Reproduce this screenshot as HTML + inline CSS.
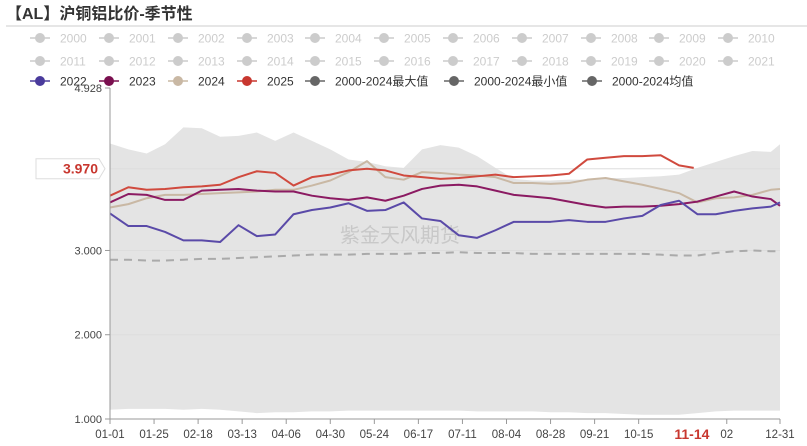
<!DOCTYPE html>
<html><head><meta charset="utf-8">
<style>
body{margin:0;background:#fff;}
svg{display:block;font-family:"Liberation Sans","Noto Sans CJK SC",sans-serif;}
</style></head>
<body>
<svg id="chart" width="807" height="446" viewBox="0 0 807 446">
<text x="6" y="19" font-size="16" font-weight="bold" fill="#333">【AL】沪铜铝比价-季节性</text>
<line x1="6" y1="26" x2="807" y2="26" stroke="#ccc"/>
<g id="legend"></g>
<g id="plot"></g>
</svg>
<script>
const days = [0,10,20,30,40,50,60,70,80,90,100,110,120,130,140,150,160,170,180,190,200,210,220,230,240,250,260,270,280,290,300,310,320,330,340,350,360,365];
const s2022 = [3.44,3.29,3.29,3.22,3.12,3.12,3.10,3.30,3.17,3.19,3.43,3.48,3.51,3.56,3.47,3.48,3.57,3.38,3.35,3.18,3.15,3.24,3.34,3.34,3.34,3.36,3.34,3.34,3.38,3.41,3.54,3.59,3.43,3.43,3.47,3.50,3.52,3.57];
const s2023 = [3.57,3.67,3.66,3.60,3.60,3.71,3.72,3.73,3.71,3.70,3.70,3.65,3.62,3.60,3.63,3.59,3.65,3.73,3.77,3.78,3.76,3.71,3.66,3.64,3.62,3.58,3.54,3.51,3.52,3.52,3.53,3.55,3.58,3.64,3.70,3.64,3.61,3.53];
const s2024 = [3.51,3.55,3.62,3.66,3.66,3.67,3.68,3.69,3.70,3.72,3.72,3.77,3.83,3.93,4.06,3.87,3.84,3.93,3.92,3.90,3.89,3.87,3.80,3.80,3.79,3.80,3.84,3.86,3.82,3.78,3.73,3.68,3.57,3.62,3.63,3.66,3.72,3.73];
const days2025 = [0,10,20,30,40,50,60,70,80,90,100,110,120,130,140,150,160,170,180,190,200,210,220,230,240,250,260,270,280,290,300,310,318];
const s2025 = [3.65,3.75,3.72,3.73,3.75,3.76,3.78,3.87,3.94,3.92,3.77,3.87,3.90,3.95,3.97,3.95,3.89,3.87,3.85,3.86,3.88,3.90,3.87,3.88,3.89,3.91,4.08,4.10,4.12,4.12,4.13,4.01,3.98];
const sMax = [4.27,4.20,4.15,4.26,4.46,4.45,4.35,4.36,4.40,4.30,4.40,4.30,4.20,4.08,4.05,4.00,3.98,4.20,4.25,4.22,4.12,3.98,3.85,3.83,3.83,3.84,3.84,3.86,3.86,3.87,3.88,3.90,3.98,4.05,4.12,4.18,4.17,4.26];
const sMin = [1.11,1.12,1.12,1.12,1.11,1.12,1.11,1.09,1.07,1.08,1.08,1.09,1.09,1.10,1.10,1.10,1.10,1.10,1.10,1.10,1.09,1.09,1.09,1.09,1.08,1.08,1.07,1.07,1.06,1.05,1.05,1.05,1.07,1.09,1.10,1.10,1.10,1.10];
const sMean = [2.89,2.89,2.88,2.88,2.89,2.90,2.90,2.91,2.92,2.93,2.94,2.95,2.95,2.95,2.96,2.96,2.96,2.97,2.97,2.98,2.97,2.97,2.97,2.96,2.96,2.96,2.96,2.96,2.96,2.96,2.95,2.94,2.94,2.97,2.99,3.00,2.99,2.99];
const yTicks = [1.000,2.000,3.000,4.928];
const xTickDays = [0,24,48,72,96,120,144,168,192,216,240,264,288,336,365];
const xTickLabels = ["01-01","01-25","02-18","03-13","04-06","04-30","05-24","06-17","07-11","08-04","08-28","09-21","10-15","02","12-31"];
const markDay = 317, markLabel = "11-14", markValue = 3.970;
const legendRows = [
 ["2000","2001","2002","2003","2004","2005","2006","2007","2008","2009","2010"],
 ["2011","2012","2013","2014","2015","2016","2017","2018","2019","2020","2021"]
];
const legendActive = [["2022","#4a3b9c"],["2023","#7a0f4f"],["2024","#c9b8a4"],["2025","#c8372f"],["2000-2024最大值","#666"],["2000-2024最小值","#666"],["2000-2024均值","#666"]];

const NS="http://www.w3.org/2000/svg";
const X0=110,X1=780,Y0=419,YTOP=88,VMIN=1.0,VMAX=4.928;
const xs=d=>X0+(X1-X0)*d/365;
const ys=v=>Y0-(Y0-YTOP)*(v-VMIN)/(VMAX-VMIN);
function mk(tag,attrs,parent){const e=document.createElementNS(NS,tag);for(const k in attrs)e.setAttribute(k,attrs[k]);parent.appendChild(e);return e;}
const plot=document.getElementById('plot'), legend=document.getElementById('legend');

// legend
const legXs=[60,129,198,267,335,404,473,542,611,679,748];
legendRows.forEach((row,ri)=>{row.forEach((t,i)=>{
 const g=mk('g',{},legend);
 
 
 const y=38+ri*23,x=legXs[i];
 mk('line',{x1:x-30,y1:y,x2:x-10,y2:y,stroke:'#ccc','stroke-width':1.5},g);
 mk('circle',{cx:x-20,cy:y,r:5,fill:'#ccc'},g);
 const tx=mk('text',{x:x,y:y+4.5,'font-size':12,fill:'#ccc'},g);tx.textContent=t;
});});
const actXs=[60,129,198,267,335,474,612];
legendActive.forEach((a,i)=>{
 const g=mk('g',{},legend);
 
 
 const y=81,x=actXs[i];
 mk('line',{x1:x-30,y1:y,x2:x-10,y2:y,stroke:a[1],'stroke-width':1.5},g);
 mk('circle',{cx:x-20,cy:y,r:5,fill:a[1]},g);
 const tx=mk('text',{x:x,y:y+4.5,'font-size':12,fill:'#333'},g);tx.textContent=a[0];
});

// band
let up=days.map((d,i)=>xs(d)+','+ys(sMax[i])).join(' ');
let dn=days.map((d,i)=>xs(d)+','+ys(sMin[i])).reverse().join(' ');
const band=mk('polygon',{points:up+' '+dn,fill:'#e4e4e4'},plot);



// grid
[2,3,markValue].forEach(v=>{mk('line',{x1:X0,y1:ys(v),x2:X1,y2:ys(v),stroke:'#ddd','stroke-width':1},plot);});

// watermark
const wm=mk('text',{x:340,y:242,'font-size':20,fill:'#c8c8c8','font-family':'"Noto Sans CJK SC",sans-serif'},plot);
wm.textContent='紫金天风期货';



function line(ds,vals,color,name,extra){
 const p=mk('polyline',Object.assign({points:ds.map((d,i)=>xs(d)+','+ys(vals[i])).join(' '),fill:'none',stroke:color,'stroke-width':2,'stroke-linejoin':'round'},extra||{}),plot);
 
 
}
line(days,sMean,'#aaa','mean-line',{'stroke-dasharray':'8,6'});
line(days,s2024,'#c9b8a4','line-2024');
line(days,s2023,'#8b1a62','line-2023');
line(days,s2022,'#5a4aa8','line-2022');
line(days2025,s2025,'#d04a3e','line-2025');

// axes
mk('line',{x1:X0,y1:YTOP,x2:X0,y2:Y0,stroke:'#999'},plot);
mk('line',{x1:X0,y1:Y0,x2:X1,y2:Y0,stroke:'#999'},plot);
yTicks.forEach(v=>{
 mk('line',{x1:X0-5,y1:ys(v),x2:X0,y2:ys(v),stroke:'#999'},plot);
 const t=mk('text',{x:X0-8,y:ys(v)+4,'font-size':11,fill:'#444','text-anchor':'end'},plot);
 t.textContent=v.toFixed(3);
 
 
});
xTickDays.forEach((d,i)=>{
 mk('line',{x1:xs(d),y1:Y0,x2:xs(d),y2:Y0+5,stroke:'#999'},plot);
 const t=mk('text',{x:xs(d),y:Y0+19,'font-size':11.5,fill:'#444','text-anchor':'middle'},plot);
 t.textContent=xTickLabels[i];
 
 
});
const mt=mk('text',{x:xs(markDay),y:Y0+20,'font-size':14,'font-weight':'bold',fill:'#c8372f','text-anchor':'middle'},plot);
mt.textContent=markLabel;


// value marker
const yy=ys(markValue);
const mb=mk('path',{d:`M36 ${yy-10} H99 L105 ${yy} L99 ${yy+10} H36 Z`,fill:'#fff',stroke:'#ddd'},plot);


const mv=mk('text',{x:98,y:yy+5,'font-size':14,'font-weight':'bold',fill:'#c8372f','text-anchor':'end'},plot);
mv.textContent=markValue.toFixed(3);


</script>
</body></html>
